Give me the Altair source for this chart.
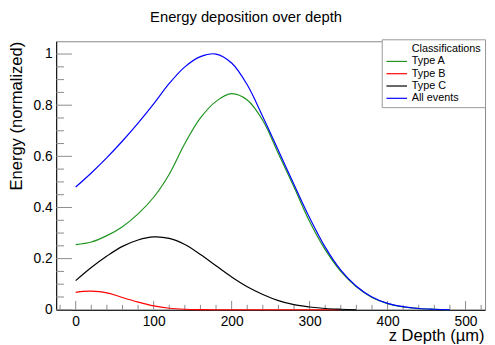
import altair as alt
import pandas as pd

# ---- data ----
z_main = [0, 20, 40, 60, 80, 100, 120, 140, 160, 180, 200, 220, 240, 260, 280,
          300, 320, 340, 360, 380, 400, 420, 440, 460, 480]
all_events = [0.48, 0.535, 0.595, 0.66, 0.73, 0.805, 0.885, 0.95, 0.99, 1.0, 0.965,
              0.88, 0.755, 0.623, 0.49, 0.36, 0.245, 0.155, 0.092, 0.05, 0.025,
              0.012, 0.005, 0.002, 0.0]
type_a = [0.255, 0.265, 0.29, 0.325, 0.375, 0.44, 0.53, 0.65, 0.75, 0.815, 0.845,
          0.82, 0.74, 0.61, 0.48, 0.345, 0.235, 0.15, 0.09, 0.048, 0.024, 0.011,
          0.005, 0.002, 0.0]

z_c = [0, 20, 40, 60, 80, 100, 120, 140, 160, 180, 200, 220, 240, 260, 280, 300,
       320, 340, 360]
type_c = [0.114, 0.165, 0.21, 0.248, 0.273, 0.285, 0.279, 0.255, 0.216, 0.172, 0.128,
          0.09, 0.06, 0.036, 0.02, 0.011, 0.005, 0.002, 0.0]

z_b = [0, 10, 20, 30, 40, 50, 60, 80, 100, 120, 140, 160, 180, 200, 250, 300, 340]
type_b = [0.068, 0.072, 0.073, 0.071, 0.066, 0.058, 0.048, 0.03, 0.015, 0.006,
          0.002, 0.0005, 0.0, 0.0, 0.0, 0.0, 0.0]

legend_domain = ["Classifications", "Type A", "Type B", "Type C", "All events"]
legend_colors = ["transparent", "#1f941f", "#ff0000", "#000000", "#0000ff"]

x_major = [0, 100, 200, 300, 400, 500]
x_minor = [-20, 20, 40, 60, 80, 120, 140, 160, 180, 220, 240, 260, 280, 320, 340,
           360, 380, 420, 440, 460, 480, 520]
y_major = [0, 0.2, 0.4, 0.6, 0.8, 1.0]
y_minor = [0.05, 0.1, 0.15, 0.25, 0.3, 0.35, 0.45, 0.5, 0.55, 0.65, 0.7, 0.75,
           0.85, 0.9, 0.95]

# ---- tables ----
rows = []
for name, zs, vs in [("Type A", z_main, type_a), ("Type B", z_b, type_b),
                     ("Type C", z_c, type_c), ("All events", z_main, all_events)]:
    for z, v in zip(zs, vs):
        rows.append({"series": name, "z": z, "v": v})
df = pd.DataFrame(rows)

W, H = 436, 273
FONT = "Liberation Sans"

xscale = alt.Scale(domain=[-25, 525], nice=False, zero=False)
yscale = alt.Scale(domain=[0, 1.05], nice=False, zero=False)

xaxis = alt.Axis(values=x_major, format="d", title="z Depth (µm)",
                 titleAlign="right", titleAnchor="end", titleX=435, titleY=31,
                 titleBaseline="alphabetic", labelPadding=5, labelBaseline="top")
yaxis = alt.Axis(values=y_major, format="~g", title="Energy (normalized)",
                 titleAlign="right", titleAnchor="end", titleAngle=270, titleX=-35,
                 titleY=0, titleBaseline="alphabetic", labelPadding=4)

lines = alt.Chart(df).mark_line(strokeWidth=1.2, interpolate="catmull-rom").encode(
    x=alt.X("z:Q", scale=xscale, axis=xaxis),
    y=alt.Y("v:Q", scale=yscale, axis=yaxis),
    color=alt.Color("series:N", sort=legend_domain,
                    scale=alt.Scale(domain=legend_domain, range=legend_colors),
                    legend=alt.Legend(title=None, orient="none", legendX=331, legendY=-2,
                                      symbolType="M-1,0H3", symbolSize=110,
                                      symbolStrokeWidth=1.2, labelFont=FONT,
                                      labelFontSize=11, labelColor="black",
                                      labelExpr="datum.label == 'Classifications' ? 'Classifications\u00a0\u00a0\u00a0' : datum.label",
                                      labelOffset=14.5, rowPadding=1.5, padding=4,
                                      strokeColor="#999999", fillColor="white")),
)

tick_color = "#8a8a8a"
xmaj = alt.Chart(pd.DataFrame({"z": x_major})).mark_rule(color=tick_color).encode(
    x=alt.X("z:Q", scale=xscale, axis=xaxis), y=alt.value(H), y2=alt.value(H - 9))
xmin = alt.Chart(pd.DataFrame({"z": x_minor})).mark_rule(color=tick_color).encode(
    x=alt.X("z:Q", scale=xscale, axis=xaxis), y=alt.value(H), y2=alt.value(H - 5))
ymaj = alt.Chart(pd.DataFrame({"v": y_major})).mark_rule(color=tick_color).encode(
    y=alt.Y("v:Q", scale=yscale, axis=yaxis), x=alt.value(0), x2=alt.value(16))
ymin = alt.Chart(pd.DataFrame({"v": y_minor})).mark_rule(color=tick_color).encode(
    y=alt.Y("v:Q", scale=yscale, axis=yaxis), x=alt.value(0), x2=alt.value(8))

chart = alt.layer(xmaj, xmin, ymaj, ymin, lines).properties(
    width=W, height=H,
    title=alt.TitleParams("Energy deposition over depth", font=FONT, fontSize=15,
                          fontWeight="normal", color="black", anchor="middle",
                          dx=-25, offset=2, baseline="alphabetic"),
    autosize=alt.AutoSizeParams(type="none"),
    padding={"left": 49, "top": 31, "right": 2, "bottom": 33},
).configure_view(stroke="#888888", strokeWidth=1).configure_axis(
    domainColor="black", domainWidth=1, ticks=False, tickSize=0, grid=False,
    labelFont=FONT, labelFontSize=14, labelColor="black",
    titleFont=FONT, titleFontSize=16.8, titleFontWeight="normal", titleColor="black",
)

chart.save("out.html", embed_options={"renderer": "svg", "actions": False})
